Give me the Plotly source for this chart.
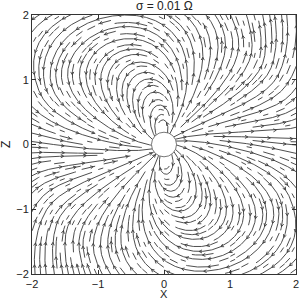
import math
import plotly.graph_objects as go

# ---- values ----
title_text = "σ = 0.01 Ω"
x_label = "X"
z_label = "Z"
x_tick_vals = [-2, -1, 0, 1, 2]
z_tick_vals = [-2, -1, 0, 1, 2]
x_range = [-2, 2]
z_range = [-2, 2]
sphere_radius = 0.19

# arrow directions (degrees) sampled along the streamlines of the reference
sample_x = [0.24, 0.58, 0.96, 1.57, 1.9, 0.6, 1.5, 0.85, 1.2, 1.9, 0.55, 1.19, 0.97, 1.25,
            -0.14, -1.53, -0.85, -1.8, -1.8, -0.36, -1.12, -0.41, -1.09, -1.8, -1.47, -0.71,
            -1.93, -1.58, -1.23, -0.85, -0.52, -1.93, -1.5, -1.16, -0.79, -0.47, -1.84, -1.47,
            -1.15, -0.82, -0.47, -0.17, -1.47, -1.15, -0.82, -0.41, -1.15, -0.82, -0.41, -0.1,
            0.27, 0.24, 0.24, 0.55, 0.58, 0.59]
sample_z = [0.91, 1.14, 1.14, 0.64, 0.49, 1.87, 1.5, 0.56, 0.26, 0.23, 0.23, 0.91, 1.48, 1.5,
            0.56, 1.26, 1.64, 0.56, 0.95, 1.92, 1.56, 0.96, 0.33, 0.28, 0.3, 1.23,
            -0.12, -0.16, -0.16, -0.17, -0.19, -0.44, -0.53, -0.51, -0.51, -0.55, -0.83, -0.89,
            -0.86, -0.89, -0.86, -0.5, -1.25, -1.22, -1.22, -1.22, -1.59, -1.59, -1.59, -1.22,
            -0.81, -1.14, -1.5, -1.85, -1.12, -1.51]
sample_dir_deg = [90, 90, 70, 45, 30, 125, 85, 40, 10, 0, 15, 60, 90, 90,
                  270, 270, 190, 300, 265, 180, 225, 270, 350, 350, 0, 250,
                  0, 0, 0, 0, 5, 30, 20, 15, 20, 40, 50, 45,
                  45, 50, 60, 70, 70, 65, 70, 75, 80, 90, 85, 90,
                  170, 180, 180, 180, 175, 180]


# ---- smooth twisted-dipole direction field fitted to the sampled arrows ----
def field_angle(p, x, z):
    r = math.hypot(x, z)
    th = math.atan2(z, x)
    a = p[0] + p[1] * r + p[2] * r * r
    b = p[3] + p[4] * r + p[5] * r * r
    rr = min(r, 2.05)
    k = 0.25 + math.exp(p[6] + p[7] * rr)
    return th + math.atan2(k * math.sin(th - b), math.cos(th - a))


def fit_error(p):
    t = 0.0
    for x, z, d in zip(sample_x, sample_z, sample_dir_deg):
        dd = (math.degrees(field_angle(p, x, z)) - d + 180) % 360 - 180
        t += dd * dd
    return t


params = [0.3, 0.3, 0.0, 0.3, 0.3, 0.0, math.log(0.3), 0.0]
best = fit_error(params)
steps = [0.3] * len(params)
for _ in range(80):
    improved = False
    for i in range(len(params)):
        for s in (1, -1):
            q = list(params)
            q[i] += s * steps[i]
            e = fit_error(q)
            if e < best:
                best, params, improved = e, q, True
    if not improved:
        steps = [st * 0.6 for st in steps]


def direction(x, z):
    a = field_angle(params, x, z)
    return math.cos(a), math.sin(a)


# ---- evenly spaced streamlines (streamslice style) ----
N = 48
cell = (x_range[1] - x_range[0]) / N
occ = [[False] * N for _ in range(N)]
h = 0.01
R_FREE = 0.32


def cell_of(x, z):
    i = int((x - x_range[0]) / cell)
    j = int((z - z_range[0]) / cell)
    return min(max(i, 0), N - 1), min(max(j, 0), N - 1)


def trace(x0, z0, sgn):
    pts = []
    x, z = x0, z0
    own = {cell_of(x, z): 0}
    for step in range(1, 3000):
        d = direction(x, z)
        xm, zm = x + sgn * 0.5 * h * d[0], z + sgn * 0.5 * h * d[1]
        if math.hypot(xm, zm) < 1e-6:
            break
        d2 = direction(xm, zm)
        x, z = x + sgn * h * d2[0], z + sgn * h * d2[1]
        if not (x_range[0] - 0.02 <= x <= x_range[1] + 0.02 and z_range[0] - 0.02 <= z <= z_range[1] + 0.02):
            pts.append((x, z))
            break
        r = math.hypot(x, z)
        if r < sphere_radius:
            pts.append((x, z))
            break
        c = cell_of(x, z)
        if r > R_FREE:
            if occ[c[0]][c[1]]:
                break
            if c in own and step - own[c] > 40:
                break
        own.setdefault(c, step)
        pts.append((x, z))
    return pts, own


lines = []
seen = set()
for stride in (6, 3, 1):
    for i in range(0, N, stride):
        for j in range(0, N, stride):
            if (i, j) in seen:
                continue
            seen.add((i, j))
            if occ[i][j]:
                continue
            x0 = x_range[0] + (i + 0.5) * cell
            z0 = z_range[0] + (j + 0.5) * cell
            if math.hypot(x0, z0) < R_FREE:
                continue
            fw, o1 = trace(x0, z0, 1)
            bw, o2 = trace(x0, z0, -1)
            pts = list(reversed(bw)) + [(x0, z0)] + fw
            if len(pts) < 6:
                continue
            for c in list(o1) + list(o2):
                occ[c[0]][c[1]] = True
            lines.append(pts)

lx, lz, ax_, az_ = [], [], [], []
GAP, ALEN, AANG = 0.34, 0.05, math.radians(28)
for pts in lines:
    for p in pts:
        lx.append(p[0])
        lz.append(p[1])
    lx.append(None)
    lz.append(None)
    s = 0.0
    nxt = GAP * 0.5
    for a in range(1, len(pts) - 1):
        s += math.dist(pts[a - 1], pts[a])
        if s >= nxt:
            nxt += GAP
            dx = pts[a + 1][0] - pts[a - 1][0]
            dz = pts[a + 1][1] - pts[a - 1][1]
            n = math.hypot(dx, dz)
            if n == 0:
                continue
            dx, dz = dx / n, dz / n
            tx, tz = pts[a]
            for sg in (1, -1):
                ca, sa = math.cos(sg * AANG), math.sin(sg * AANG)
                bx = -(dx * ca - dz * sa)
                bz = -(dx * sa + dz * ca)
                ax_ += [tx, tx + ALEN * bx, None]
                az_ += [tz, tz + ALEN * bz, None]

LINE_COLOR = "#3a3a3a"
FONT = "Liberation Sans, Arial, sans-serif"
fig = go.Figure()
fig.add_trace(go.Scatter(x=lx, y=lz, mode="lines", line=dict(color=LINE_COLOR, width=0.9),
                         hoverinfo="skip", showlegend=False))
fig.add_trace(go.Scatter(x=ax_, y=az_, mode="lines", line=dict(color=LINE_COLOR, width=0.9),
                         hoverinfo="skip", showlegend=False))
fig.add_shape(type="circle", xref="x", yref="y", x0=-sphere_radius, x1=sphere_radius,
              y0=-sphere_radius, y1=sphere_radius,
              fillcolor="white", line=dict(color="#555555", width=0.8), layer="above")

ac = dict(showgrid=False, zeroline=False, showline=True, linecolor="#333333", linewidth=1, mirror="ticks",
          ticks="inside", ticklen=4, tickcolor="#333333", automargin=False,
          tickfont=dict(family=FONT, size=11, color="#222222"))
fig.update_xaxes(range=x_range, tickvals=x_tick_vals, **ac)
fig.update_yaxes(range=z_range, tickvals=z_tick_vals, **ac)
fig.add_annotation(text=x_label, xref="paper", yref="paper", x=0.5, y=-0.078, xanchor="center",
                   yanchor="middle", showarrow=False, font=dict(family=FONT, size=11, color="#222222"))
fig.add_annotation(text=z_label, xref="paper", yref="paper", x=-0.1, y=0.5, xanchor="center",
                   yanchor="middle", textangle=-90, showarrow=False,
                   font=dict(family=FONT, size=12, color="#222222"))
fig.add_annotation(text=title_text, xref="paper", yref="paper", x=0.5, y=1.0, xanchor="center",
                   yanchor="bottom", yshift=0, showarrow=False,
                   font=dict(family=FONT, size=12, color="#222222"))
fig.update_layout(width=300, height=300, margin=dict(l=32, r=4, t=15, b=26),
                  paper_bgcolor="white", plot_bgcolor="white")
fig.write_html("out.html", config={"displayModeBar": False},
               post_script="document.body.style.margin='0';")
